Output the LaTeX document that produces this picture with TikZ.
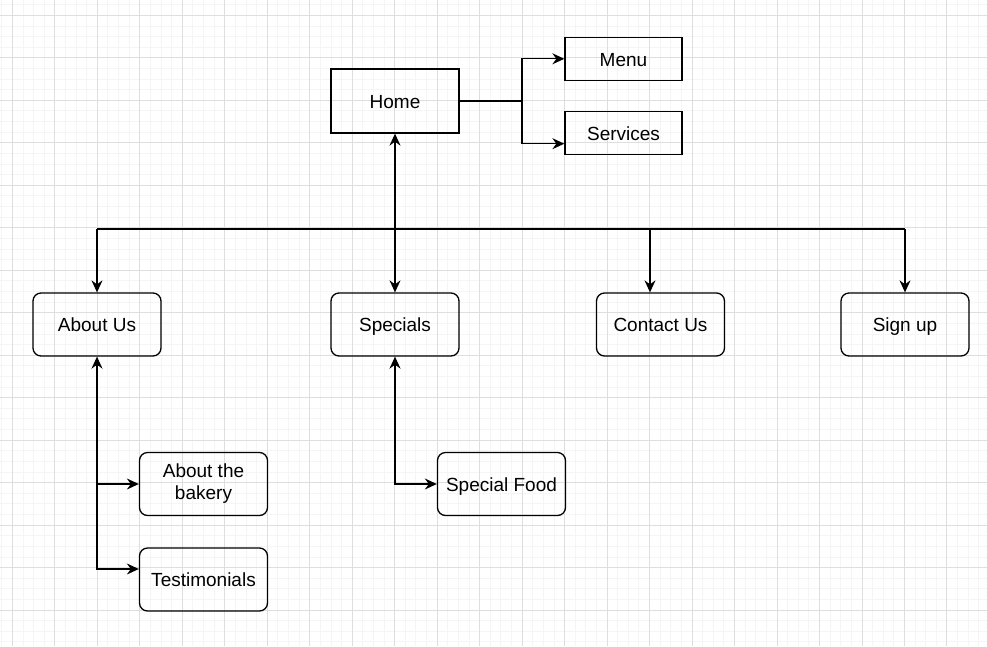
\documentclass[tikz,border=0pt]{standalone}
\usepackage{fontspec}
\setmainfont{Liberation Sans}
\usetikzlibrary{arrows.meta}

\begin{document}
\begin{tikzpicture}[x=1pt,y=-1pt,
    line width=1.3pt,
    >={Stealth[length=12pt,width=11pt,inset=4pt]},
    page/.style={font=\fontsize{19}{22}\selectfont, draw, inner sep=0pt, align=center},
    line/.style={text height=14.4pt, text depth=0pt},
    box/.style={page, line, minimum width=128pt, minimum height=64pt},
    small/.style={page, line, minimum width=117pt, minimum height=43pt},
    rbox/.style={page, rounded corners=8pt, minimum width=128pt, minimum height=63pt}]
    \useasboundingbox (0,0) rectangle (987,646);
    \fill[white] (0,0) rectangle (987,646);
    \begin{scope}[line width=0.8pt]
    \clip (0,0) rectangle (987,646);
    \foreach \k in {-1,...,91}
        \draw[black!4] (12.3+10.62*\k,0) -- (12.3+10.62*\k,646);
    \foreach \k in {-1,...,59}
        \draw[black!4] (0,15.3+10.62*\k) -- (987,15.3+10.62*\k);
    \foreach \k in {0,...,22}
        \draw[black!13] (12.3+42.48*\k,0) -- (12.3+42.48*\k,646);
    \foreach \k in {0,...,14}
        \draw[black!13] (0,15.3+42.48*\k) -- (987,15.3+42.48*\k);
    \end{scope}

    \node[box] at (395,101)(home) {Home};
    \node[small] at (623.5,58.8)(menu) {Menu};
    \node[small] at (623.5,133.3)(services) {Services};

    \node[rbox, line] at (97,324.5)(about) {About Us};
    \node[rbox, line] at (395,324.5)(specials) {Specials};
    \node[rbox, line] at (660.5,324.5)(contact) {Contact Us};
    \node[rbox, line] at (905,324.5)(signup) {Sign up};

    \node[rbox] at (203.5,484)(bakery) {About the\\bakery};
    \node[rbox, line] at (203.5,579.5)(testi) {Testimonials};
    \node[rbox, line] at (501.5,484)(food) {Special Food};

    % home branches
    \coordinate (hsplit) at (522,101);
    \draw (home.east) -- (hsplit);
    \draw[->] (hsplit) |- (menu.west);
    \draw[->] (hsplit) |- ([yshift=-10.4pt]services.west);

    % bus
    \coordinate (busL) at (97,229);
    \coordinate (busC) at (650,229);
    \coordinate (busR) at (905,229);
    \draw (busL) -- (busR);
    \draw[->] (busL) -- (about.north);
    \draw[->] (busC) -- (busC |- contact.north);
    \draw[->] (busR) -- (signup.north);
    \draw[<->] (home.south) -- (specials.north);

    % sub pages
    \draw[<->] (about.south) |- ([yshift=10.5pt]testi.west);
    \draw[->] (about.south |- bakery.west) -- (bakery.west);
    \draw[<->] (specials.south) |- (food.west);

\end{tikzpicture}
\end{document}
